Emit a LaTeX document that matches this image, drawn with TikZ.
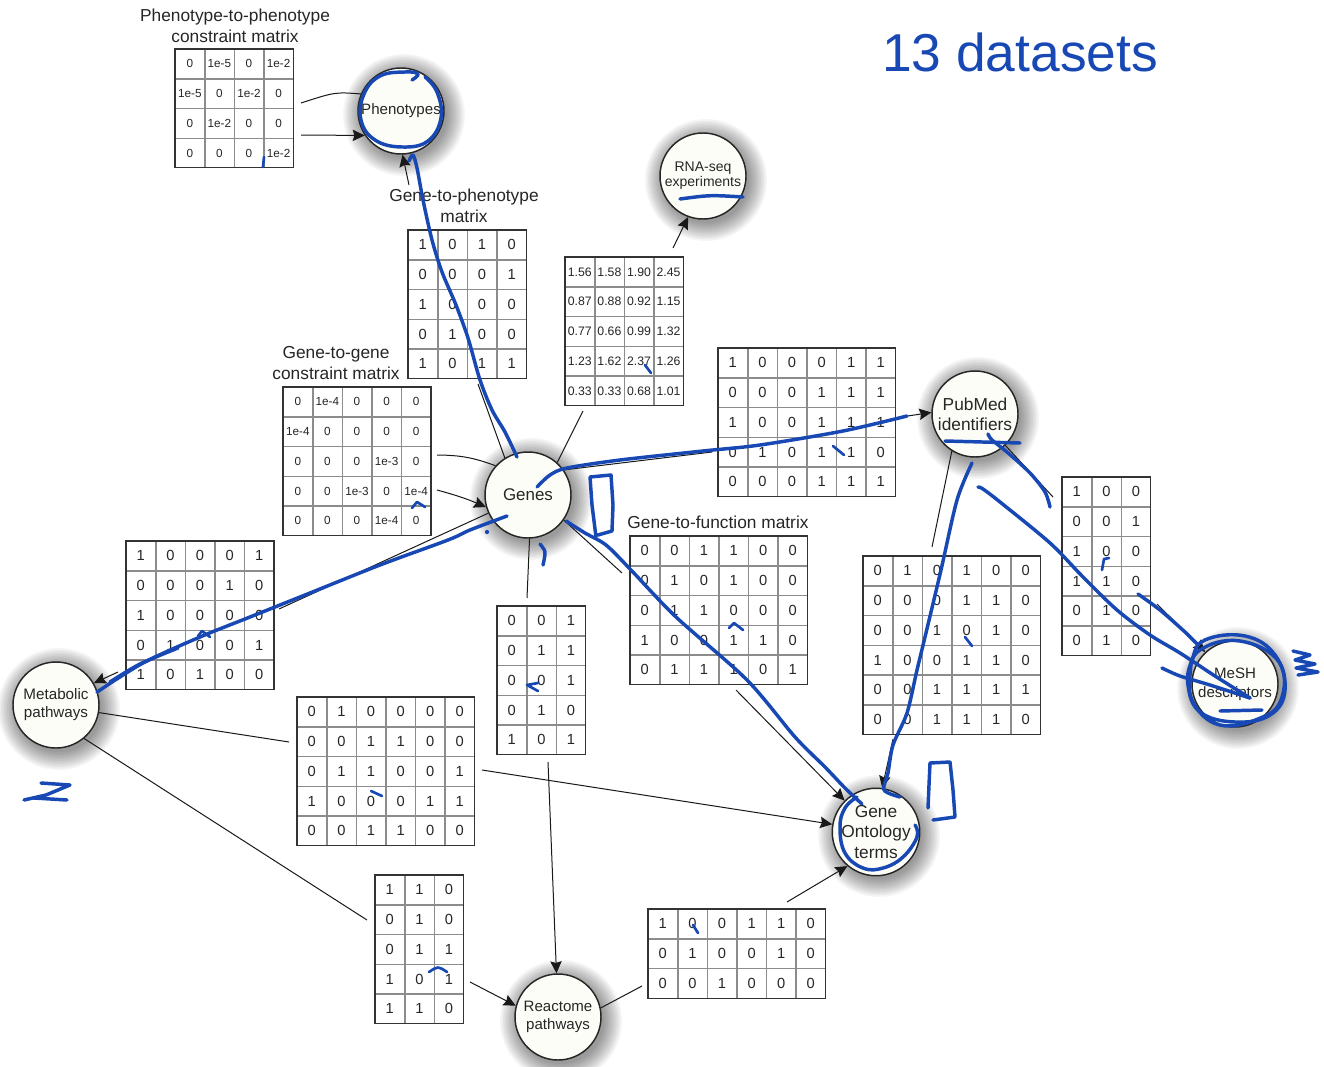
\documentclass[tikz,border=0pt]{standalone}
\usepackage{fontspec}
\setmainfont{Liberation Sans}
\usetikzlibrary{matrix,arrows.meta}

\definecolor{nodefill}{HTML}{FDFDF8}
\definecolor{pen}{RGB}{24,72,180}
\definecolor{ink}{HTML}{262626}

\newcommand\bitfont{\fontsize{11}{12}\selectfont}
\newcommand\decfont{\fontsize{9.2}{10}\selectfont}
\newcommand\expfont{\fontsize{8.8}{10}\selectfont}
\newcommand\mtitlefont{\fontsize{13}{15.75}\selectfont}

\tikzset{
  conn/.style={line width=0.75pt, draw=black!90},
  arr/.style={conn, -{Stealth[length=9pt,width=8.5pt,inset=1.2pt]}},
  entity/.style={circle, draw=black!85, line width=1.1pt, fill=nodefill,
    minimum size=64.5pt, inner sep=0pt, align=center, text=ink},
  shadowring/.style={fill=black, opacity=0.035},
  cell/.style={draw=black!45, line width=0.5pt, minimum width=21.7pt, minimum height=21.8pt,
    inner sep=0pt, outer sep=0pt, text=ink, anchor=center},
  datamat/.style={matrix of nodes, anchor=north west, inner sep=0pt, outer sep=0pt,
    column sep=0pt, row sep=0pt, nodes={cell, font=\bitfont}},
  frame/.style={draw=black!80, line width=0.8pt},
  mtitle/.style={align=center, text=ink, font=\mtitlefont},
  penline/.style={draw=pen, line width=2.6pt, line cap=round, line join=round},
  pentick/.style={penline, line width=2pt},
}

\begin{document}
\begin{tikzpicture}[x=0.75pt, y=-0.75pt]
\fill[white] (0,0) rectangle (1324,1067);
\useasboundingbox (0,0) rectangle (1324,1067);

% ---------- soft shadows (stacked translucent discs), then entity nodes ----------
\foreach \cx/\cy in {401/111, 703/176, 528/495, 975/414, 56/705, 1235/684, 876/832, 558/1017}
  \foreach \r in {43,44.5,...,62}
    \fill[shadowring] (\cx+3,\cy+4) circle[radius={\r*0.75pt}];

\node[entity, font=\fontsize{11.3}{13.5}\selectfont] (phen) at (401,111) {Phenotypes};
\node[entity, font=\fontsize{10.5}{11.3}\selectfont] (rna) at (703,176) {RNA-seq\\experiments};
\node[entity, font=\fontsize{12.7}{15}\selectfont] (genes) at (528,495) {Genes};
\node[entity, font=\fontsize{13}{15}\selectfont] (pub) at (975,414) {PubMed\\identifiers};
\node[entity, font=\fontsize{11.4}{13.5}\selectfont] (met) at (56,705) {Metabolic\\pathways};
\node[entity, font=\fontsize{11.3}{14}\selectfont] (mesh) at (1235,684) {MeSH\\descriptors};
\node[entity, font=\fontsize{13}{15.5}\selectfont] (go) at (876,832) {Gene\\Ontology\\terms};
\node[entity, font=\fontsize{11.3}{13.5}\selectfont] (rea) at (558,1017) {Reactome\\pathways};

% ---------- matrix titles ----------
\node[mtitle] (tPP) at (235,25.5) {Phenotype-to-phenotype\\constraint matrix};
\node[mtitle] (tGP) at (464,206) {Gene-to-phenotype\\matrix};
\node[mtitle] (tGG) at (336,363.5) {Gene-to-gene\\constraint matrix};
\node[mtitle] (tGF) at (718,522) {Gene-to-function matrix};

% ---------- data matrices ----------
\matrix (mPP) [datamat, nodes={font=\expfont}] at (175,49) {
0 & 1e-5 & 0 & 1e-2\\
1e-5 & 0 & 1e-2 & 0\\
0 & 1e-2 & 0 & 0\\
0 & 0 & 0 & 1e-2\\
};
\matrix (mGP) [datamat] at (408,230) {
1 & 0 & 1 & 0\\
0 & 0 & 0 & 1\\
1 & 0 & 0 & 0\\
0 & 1 & 0 & 0\\
1 & 0 & 1 & 1\\
};
\matrix (mRN) [datamat, nodes={font=\decfont}] at (565,257) {
1.56 & 1.58 & 1.90 & 2.45\\
0.87 & 0.88 & 0.92 & 1.15\\
0.77 & 0.66 & 0.99 & 1.32\\
1.23 & 1.62 & 2.37 & 1.26\\
0.33 & 0.33 & 0.68 & 1.01\\
};
\matrix (mGG) [datamat, nodes={font=\expfont}] at (283,387) {
0 & 1e-4 & 0 & 0 & 0\\
1e-4 & 0 & 0 & 0 & 0\\
0 & 0 & 0 & 1e-3 & 0\\
0 & 0 & 1e-3 & 0 & 1e-4\\
0 & 0 & 0 & 1e-4 & 0\\
};
\matrix (mGPM) [datamat] at (718,348) {
1 & 0 & 0 & 0 & 1 & 1\\
0 & 0 & 0 & 1 & 1 & 1\\
1 & 0 & 0 & 1 & 1 & 1\\
0 & 1 & 0 & 1 & 1 & 0\\
0 & 0 & 0 & 1 & 1 & 1\\
};
\matrix (mGM) [datamat] at (126,541) {
1 & 0 & 0 & 0 & 1\\
0 & 0 & 0 & 1 & 0\\
1 & 0 & 0 & 0 & 0\\
0 & 1 & 0 & 0 & 1\\
1 & 0 & 1 & 0 & 0\\
};
\matrix (mGF) [datamat] at (630,536) {
0 & 0 & 1 & 1 & 0 & 0\\
0 & 1 & 0 & 1 & 0 & 0\\
0 & 1 & 1 & 0 & 0 & 0\\
1 & 0 & 0 & 1 & 1 & 0\\
0 & 1 & 1 & 1 & 0 & 1\\
};
\matrix (mGR) [datamat] at (497,606) {
0 & 0 & 1\\
0 & 1 & 1\\
0 & 0 & 1\\
0 & 1 & 0\\
1 & 0 & 1\\
};
\matrix (mMG) [datamat] at (297,697) {
0 & 1 & 0 & 0 & 0 & 0\\
0 & 0 & 1 & 1 & 0 & 0\\
0 & 1 & 1 & 0 & 0 & 1\\
1 & 0 & 0 & 0 & 1 & 1\\
0 & 0 & 1 & 1 & 0 & 0\\
};
\matrix (mPG) [datamat] at (863,556) {
0 & 1 & 0 & 1 & 0 & 0\\
0 & 0 & 0 & 1 & 1 & 0\\
0 & 0 & 1 & 0 & 1 & 0\\
1 & 0 & 0 & 1 & 1 & 0\\
0 & 0 & 1 & 1 & 1 & 1\\
0 & 0 & 1 & 1 & 1 & 0\\
};
\matrix (mPM) [datamat] at (1062,477) {
1 & 0 & 0\\
0 & 0 & 1\\
1 & 0 & 0\\
1 & 1 & 0\\
0 & 1 & 0\\
0 & 1 & 0\\
};
\matrix (mMR) [datamat] at (375,875) {
1 & 1 & 0\\
0 & 1 & 0\\
0 & 1 & 1\\
1 & 0 & 1\\
1 & 1 & 0\\
};
\matrix (mRG) [datamat] at (648,909) {
1 & 0 & 0 & 1 & 1 & 0\\
0 & 1 & 0 & 0 & 1 & 0\\
0 & 0 & 1 & 0 & 0 & 0\\
};
\foreach \m in {mPP,mGP,mRN,mGG,mGPM,mGM,mGF,mGR,mMG,mPG,mPM,mMR,mRG}
  \draw[frame] (\m.north west) rectangle (\m.south east);

% ---------- connector end points at the matrices ----------
\coordinate (ppIn) at (301,103);
\coordinate (ppOut) at (301,135);
\coordinate (gpIn) at (478,384);
\coordinate (gpOut) at (409,185);
\coordinate (rnIn) at (583,411);
\coordinate (rnOut) at (673,248);
\coordinate (ggIn) at (437,455);
\coordinate (ggOut) at (437,490);
\coordinate (gpmIn) at (712,452);
\coordinate (gpmOut) at (901,417);
\coordinate (gmIn) at (279,609);
\coordinate (gmOut) at (118,672);
\coordinate (gfIn) at (622,573);
\coordinate (gfOut) at (736,690);
\coordinate (grIn) at (527,598);
\coordinate (grOut) at (548,762);
\coordinate (mgIn) at (289,742);
\coordinate (mgOut) at (482,770);
\coordinate (pgIn) at (932,547);
\coordinate (pgOut) at (893,739);
\coordinate (pmIn) at (1053,497);
\coordinate (pmOut) at (1157,604);
\coordinate (mrIn) at (367,920);
\coordinate (mrOut) at (470,982);
\coordinate (rgIn) at (642,986);
\coordinate (rgOut) at (787,902);

% ---------- connectors ----------
\draw[conn] (phen.157) .. controls (335,92) .. (ppIn);
\draw[arr] (ppOut) -- (phen.214);
\draw[conn] (genes.122) -- (gpIn);
\draw[arr] (gpOut) -- (phen.272);
\draw[conn] (genes.48) -- (rnIn);
\draw[arr] (rnOut) -- (rna.250);
\draw[conn] (ggIn) to[bend left=10] (genes.138);
\draw[arr] (ggOut) to[bend left=4] (genes.196);
\draw[conn] (genes.35) -- (gpmIn);
\draw[arr] (gpmOut) -- (pub.178);
\draw[conn] (genes) -- (gmIn);
\draw[arr] (gmOut) -- (met.30);
\draw[conn] (genes.325) -- (gfIn);
\draw[arr] (gfOut) -- (go.135);
\draw[conn] (genes.272) -- (grIn);
\draw[arr] (grOut) -- (rea.92);
\draw[conn] (met.350) -- (mgIn);
\draw[arr] (mgOut) -- (go.170);
\draw[conn] (pub.238) -- (pgIn);
\draw[arr] (pgOut) -- (go.82);
\draw[conn] (pub.314) -- (pmIn);
\draw[arr] (pmOut) -- (mesh.133);
\draw[conn] (met.310) -- (mrIn);
\draw[arr] (mrOut) -- (rea.165);
\draw[conn] (rea.12) -- (rgIn);
\draw[arr] (rgOut) -- (go.230);

% ---------- pen annotations ----------
\node[text=pen, font=\fontsize{40}{44}\selectfont] (note) at (1020,52) {13 datasets};

% loop round Phenotypes
\draw[penline] plot[smooth, tension=0.7] coordinates {(412,80) (418,74) (405,72) (380,76) (364,94) (361,120) (375,140) (402,147) (428,141) (441,118) (437,92) (425,77)};
% Phenotypes down to Genes
\draw[penline] plot[smooth] coordinates {(409,161) (413,155) (417,168) (423,200) (432,240) (442,272) (456,305) (468,338) (480,380) (492,410) (505,432) (517,457)};
% Genes to Metabolic pathways
\draw[penline] plot[smooth] coordinates {(507,516) (470,530) (448,540) (380,565) (300,597) (250,617) (200,637) (143,663) (97,692)};
\draw[penline] plot[smooth] coordinates {(178,648) (140,664) (110,682)};
% Genes to PubMed
\draw[penline] plot[smooth] coordinates {(537,487) (550,475) (567,468) (620,460) (703,451) (760,445) (843,431) (907,416)};
% bracket beside Genes
\draw[penline] (596,537) -- (592,505) -- (590,477) -- (611,475) -- (613,505) -- (612,531) -- (598,535);
\draw[penline] plot[smooth] coordinates {(540,544) (545,552) (543,565)};
% Genes to Gene Ontology
\draw[penline] plot[smooth] coordinates {(566,521) (585,533) (606,545) (631,570) (676,617) (747,680) (795,737) (825,767) (845,788) (862,804)};
% loop round Gene Ontology
\draw[penline] plot[smooth, tension=0.7] coordinates {(857,797) (845,808) (840,827) (845,853) (863,868) (883,868) (903,857) (917,837) (915,825)};
% PubMed to Gene Ontology
\draw[penline] plot[smooth] coordinates {(972,463) (957,500) (941,570) (925,637) (917,670) (907,713) (893,745) (888,773) (884,790) (900,797)};
% bracket beside Gene Ontology
\draw[penline] (928,808) -- (929,785) -- (930,763) -- (950,762) -- (953,790) -- (955,817) -- (933,820);
% PubMed strokes
\draw[penline] (945,441) -- (1020,443);
\draw[penline] plot[smooth] coordinates {(988,434) (992,440) (1007,452) (1030,473) (1045,492) (1050,507)};
\draw[penline] plot[smooth] coordinates {(978,487) (983,489) (1000,502) (1050,543) (1083,577) (1117,610) (1150,635) (1180,653) (1215,676) (1250,698)};
\draw[penline] plot[smooth] coordinates {(1138,594) (1160,610) (1185,632) (1198,645)};
\draw[penline] plot[smooth] coordinates {(1162,668) (1180,676) (1210,685) (1250,698)};
% loops round MeSH descriptors
\draw[penline] plot[smooth cycle, tension=0.7] coordinates {(1205,640) (1245,636) (1275,655) (1285,690) (1270,715) (1235,722) (1200,712) (1188,685) (1192,660)};
\draw[penline] plot[smooth cycle, tension=0.7] coordinates {(1200,650) (1240,641) (1279,662) (1281,700) (1258,719) (1220,725) (1194,704) (1190,675)};
\draw[penline] (1220,711) -- (1262,710);
\draw[penline] (1293,651) -- (1310,655) -- (1295,660) -- (1315,664) -- (1296,668) -- (1318,672) -- (1298,675);
% mark at the left margin
\draw[penline] (41,783) -- (70,785) -- (46,795) -- (24,800);
\draw[penline] (34,798) -- (67,800);
% underline in RNA-seq experiments
\draw[penline] (680,199) .. controls (710,195) .. (743,197);
% small ticks in the matrices
\draw[pentick] (264,157) -- (263,167);
\draw[pentick] (645,365) -- (651,373);
\draw[pentick] (412,508) -- (417,502) -- (425,507);
\draw[pentick] (198,636) -- (202,631) -- (210,637);
\draw[pentick] (833,446) -- (844,455);
\draw[pentick] (729,628) -- (734,623) -- (743,630);
\draw[pentick] (538,683) -- (527,685) -- (538,691);
\draw[pentick] (371,791) -- (382,796);
\draw[pentick] (965,637) -- (972,646);
\draw[pentick] (1102,570) -- (1104,559) -- (1109,558);
\draw[pentick] (693,925) -- (698,933);
\draw[pentick] (429,972) .. controls (438,966) .. (447,972);
\fill[pen] (487,532) circle (1.6pt);
\end{tikzpicture}
\end{document}
